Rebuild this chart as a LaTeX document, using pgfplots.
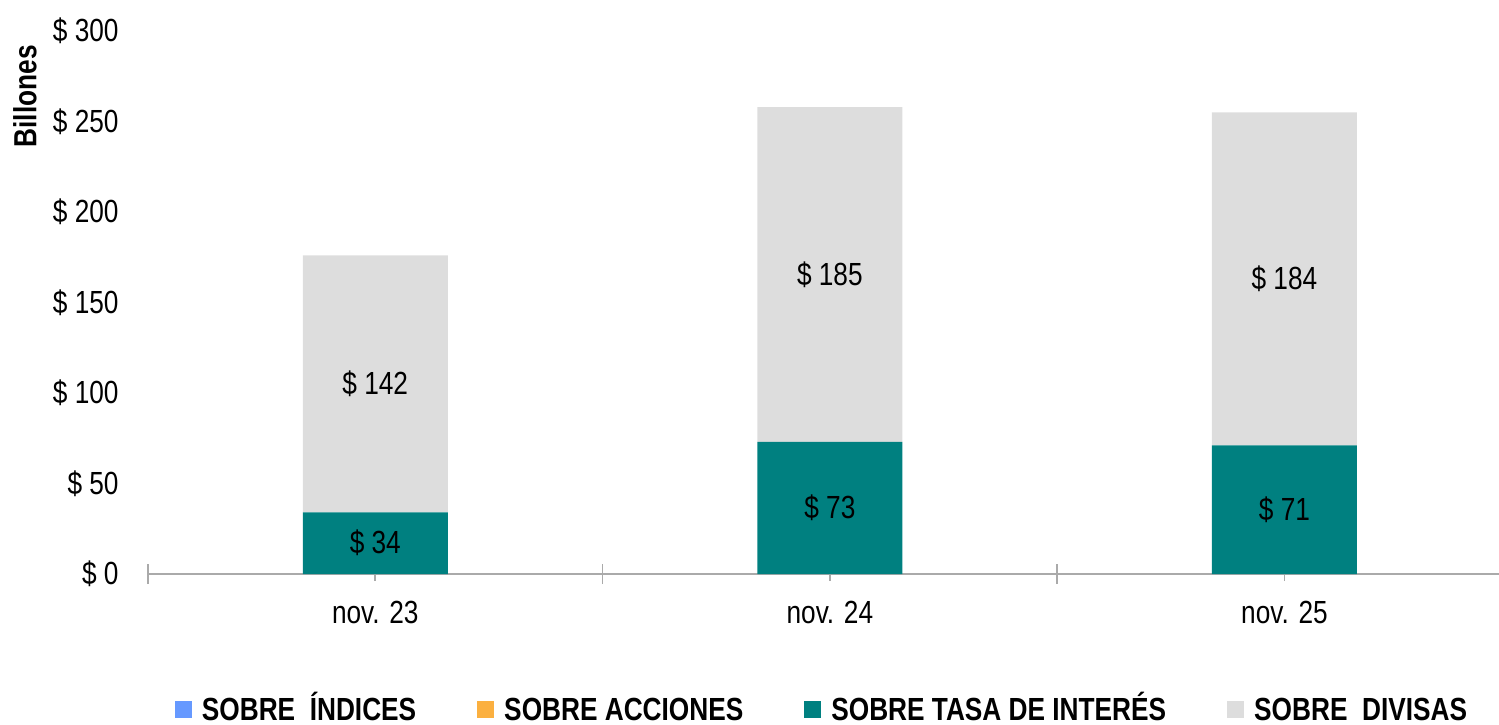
\documentclass[border=0pt]{standalone}
\usepackage{pgfplots}
\pgfplotsset{compat=1.18}
\usepackage{fontspec}
\setmainfont[FakeStretch=0.82]{Liberation Sans}
\definecolor{cIdx}{RGB}{102,153,255}
\definecolor{cAcc}{RGB}{251,176,64}
\definecolor{cTasa}{RGB}{0,128,128}
\definecolor{cDiv}{RGB}{221,221,221}
\definecolor{cAxis}{RGB}{170,170,170}
\newcommand{\chartfont}{\fontsize{16bp}{19bp}\selectfont}
\begin{document}
\chartfont
\begin{tikzpicture}
\begin{axis}[
  name=ax,
  scale only axis, width=675.5bp, height=271.5bp,
  ybar stacked, bar width=72.5bp,
  xmin=-0.5, xmax=2.472, ymin=0, ymax=300,
  axis x line*=bottom, axis y line*=left,
  x axis line style={cAxis, line width=0.8bp},
  y axis line style={draw=none},
  ytick={0,50,100,150,200,250,300},
  yticklabels={\$ 0,\$ 50,\$ 100,\$ 150,\$ 200,\$ 250,\$ 300},
  ytick style={draw=none},
  yticklabel style={font=\chartfont, inner sep=0pt, anchor=east, xshift=-11bp},
  xtick={0,1,2},
  xticklabels={nov. 23,nov. 24,nov. 25},
  minor xtick={-0.5,0.5,1.5},
  tick align=center,
  xtick style={cAxis, line width=0.8bp},
  major tick length=7bp, minor tick length=10bp,
  xticklabel style={font=\chartfont, inner sep=0pt, anchor=north, yshift=-10bp},
  legend columns=4,
  legend style={draw=none, fill=none, at={(0.5,0)}, anchor=center, yshift=-67.5bp,
    font=\bfseries\chartfont, inner sep=0pt,
    nodes={inner sep=2.5bp, text height=11.5bp, text depth=0pt},
    /tikz/every even column/.append style={column sep=28bp}},
  legend image code/.code={\fill[#1] (0bp,-4.25bp) rectangle (8.5bp,4.25bp); \path (11bp,0bp);},
  point meta=rawy,
]
\addplot[fill=cIdx, draw=none] coordinates {(0,0) (1,0) (2,0)};
\addlegendentry{SOBRE\ \ ÍNDICES}
\addplot[fill=cAcc, draw=none] coordinates {(0,0) (1,0) (2,0)};
\addlegendentry{SOBRE ACCIONES}
\addplot[fill=cTasa, draw=none,
  nodes near coords={\$ \pgfmathprintnumber[assume math mode=true]{\pgfplotspointmeta}},
  every node near coord/.append style={font=\chartfont, text=black, anchor=center}]
  coordinates {(0,34) (1,73) (2,71)};
\addlegendentry{SOBRE TASA DE INTERÉS}
\addplot[fill=cDiv, draw=none,
  nodes near coords={\$ \pgfmathprintnumber[assume math mode=true]{\pgfplotspointmeta}},
  every node near coord/.append style={font=\chartfont, text=black, anchor=center}]
  coordinates {(0,142) (1,185) (2,184)};
\addlegendentry{SOBRE\ \ DIVISAS}
\end{axis}
\node[font=\bfseries\chartfont, rotate=90, anchor=east, inner sep=0pt] at ([xshift=-61.5bp, yshift=-7bp]ax.north west) {Billones};
\pgfresetboundingbox
\path ([xshift=-74bp, yshift=-75.5bp]ax.south west) rectangle ([yshift=15.5bp]ax.north east);
\end{tikzpicture}
\end{document}
